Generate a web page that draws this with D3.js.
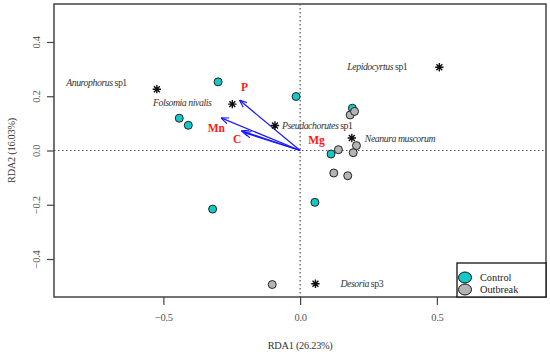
<!DOCTYPE html>
<html>
<head>
<meta charset="utf-8">
<script src="https://cdn.jsdelivr.net/npm/d3@7"></script>
<style>
  body { margin: 0; background: #fff; }
  svg text { font-family: "Liberation Serif", "DejaVu Serif", "Times New Roman", serif !important; }
</style>
</head>
<body>
<svg id="chart" width="550" height="363"></svg>
<script>
// site scores
var controlX = [-0.30, -0.442, -0.409, -0.015, 0.191, 0.113, -0.32, 0.054];
var controlY = [0.253, 0.119, 0.093, 0.199, 0.156, -0.013, -0.216, -0.191];
var outbreakX = [0.183, 0.199, 0.140, 0.206, 0.194, 0.123, 0.174, -0.102];
var outbreakY = [0.131, 0.144, 0.003, 0.018, -0.008, -0.083, -0.093, -0.494];

// species scores
var speciesGenus = ["Anurophorus", "Folsomia nivalis", "Pseudachorutes", "Lepidocyrtus", "Neanura muscorum", "Desoria"];
var speciesEpithet = ["sp1", "", "sp1", "sp1", "", "sp3"];
var speciesX = [-0.524, -0.248, -0.092, 0.509, 0.189, 0.056];
var speciesY = [0.226, 0.171, 0.092, 0.307, 0.046, -0.491];

// environmental vectors
var envNames = ["P", "Mn", "C", "Mg"];
var envX = [-0.22, -0.287, -0.213, -0.205];
var envY = [0.184, 0.119, 0.072, 0.066];

var xTicks = [-0.5, 0.0, 0.5];
var yTicks = [-0.4, -0.2, 0.0, 0.2, 0.4];

var margin = {top: 4, right: 4, bottom: 66, left: 54};
var width = 550 - margin.left - margin.right;
var height = 363 - margin.top - margin.bottom;
var serif = '"Liberation Serif", "DejaVu Serif", serif';

var svg = d3.select('#chart');
var chart = svg.append('g')
    .attr('transform', 'translate(' + margin.left + ',' + margin.top + ')');

var x = d3.scaleLinear().domain([-0.9, 0.899]).range([0, width]);
var y = d3.scaleLinear().domain([-0.54, 0.54]).range([height, 0]);

// axes
var xAxis = d3.axisBottom(x).tickValues(xTicks).tickSize(8).tickPadding(4)
    .tickFormat(d3.format('.1f'));
var yAxis = d3.axisLeft(y).tickValues(yTicks).tickSize(7).tickPadding(4)
    .tickFormat(d3.format('.1f'));

var gx = chart.append('g').attr('transform', 'translate(0,' + height + ')').call(xAxis);
var gy = chart.append('g').call(yAxis);
[gx, gy].forEach(function(g) {
    g.attr('font-family', serif);
    g.select('.domain').remove();
    g.selectAll('line').attr('stroke', '#444').attr('stroke-width', 1.2);
    g.selectAll('text').attr('fill', '#555').style('font-size', '10.5px')
        .style('letter-spacing', '-0.3px');
});
gx.selectAll('text').attr('dy', '1.1em');
gy.selectAll('text')
    .attr('transform', 'rotate(-90,-11,0)')
    .attr('x', -11).attr('dy', '-0.3em')
    .style('text-anchor', 'middle');

// zero lines
chart.append('line')
    .attr('x1', x(0)).attr('x2', x(0)).attr('y1', 0).attr('y2', height)
    .attr('stroke', '#555').attr('stroke-dasharray', '1.5,2.5').attr('stroke-width', 1.2);
chart.append('line')
    .attr('x1', 0).attr('x2', width).attr('y1', y(0)).attr('y2', y(0))
    .attr('stroke', '#555').attr('stroke-dasharray', '1.5,2.5').attr('stroke-width', 1.2);

// arrows
var defs = svg.append('defs');
defs.append('marker')
    .attr('id', 'head')
    .attr('viewBox', '0 0 10 10')
    .attr('refX', 9).attr('refY', 5)
    .attr('markerWidth', 6).attr('markerHeight', 6)
    .attr('orient', 'auto')
  .append('path')
    .attr('d', 'M0,1 L10,5 L0,9')
    .attr('fill', 'none').attr('stroke', '#1a1aff').attr('stroke-width', 1.5);

chart.selectAll('.env')
    .data(envNames)
    .enter().append('line')
    .attr('x1', x(0)).attr('y1', y(0))
    .attr('x2', function(d, i) { return x(envX[i]); })
    .attr('y2', function(d, i) { return y(envY[i]); })
    .attr('stroke', '#1a1aff').attr('stroke-width', 1.3)
    .attr('marker-end', 'url(#head)');

// env labels (offsets in px from the tip, Mg sits by the origin)
var envLabelPos = {
    P: [x(envX[0]) + 1, y(envY[0]) - 10],
    Mn: [x(envX[1]) - 14, y(envY[1]) + 14],
    C: [x(envX[2]) - 9, y(envY[2]) + 12],
    Mg: [x(0) + 8, y(0) - 7]
};
chart.selectAll('.envlab')
    .data(envNames)
    .enter().append('text')
    .attr('x', function(d) { return envLabelPos[d][0]; })
    .attr('y', function(d) { return envLabelPos[d][1]; })
    .attr('fill', '#ff1a1a')
    .style('font-size', '11.5px').style('font-weight', 'bold')
    .text(function(d) { return d; });

// sites
var sites = controlX.map(function(v, i) { return {x: v, y: controlY[i], c: '#12c8c8'}; })
    .concat(outbreakX.map(function(v, i) { return {x: v, y: outbreakY[i], c: '#b4b4b4'}; }));
chart.selectAll('.site')
    .data(sites)
    .enter().append('circle')
    .attr('cx', function(d) { return x(d.x); })
    .attr('cy', function(d) { return y(d.y); })
    .attr('r', 4)
    .attr('fill', function(d) { return d.c; })
    .attr('stroke', '#222').attr('stroke-width', 1);

// species asterisks
var star = d3.symbol().type({
    draw: function(ctx, size) {
        var r = Math.sqrt(size) / 2;
        var d = r * Math.SQRT1_2;
        ctx.moveTo(-r, 0); ctx.lineTo(r, 0);
        ctx.moveTo(0, -r); ctx.lineTo(0, r);
        ctx.moveTo(-d, -d); ctx.lineTo(d, d);
        ctx.moveTo(-d, d); ctx.lineTo(d, -d);
    }
}).size(70);
chart.selectAll('.sp')
    .data(speciesX)
    .enter().append('path')
    .attr('transform', function(d, i) { return 'translate(' + x(d) + ',' + y(speciesY[i]) + ')'; })
    .attr('d', star)
    .attr('stroke', '#111').attr('stroke-width', 1.4).attr('fill', 'none');

// species labels: [dx, dy, anchor]
var spLabel = [[-30, -3, 'end'], [-21, 2, 'end'], [7, 3, 'start'], [-32, 3, 'end'], [13, 4, 'start'], [25, 3, 'start']];
var spText = chart.selectAll('.splab')
    .data(speciesGenus)
    .enter().append('text')
    .attr('x', function(d, i) { return x(speciesX[i]) + spLabel[i][0]; })
    .attr('y', function(d, i) { return y(speciesY[i]) + spLabel[i][1]; })
    .style('text-anchor', function(d, i) { return spLabel[i][2]; })
    .attr('fill', '#333')
    .style('font-size', '9.8px').style('letter-spacing', '-0.45px');
spText.append('tspan').style('font-style', 'italic').text(function(d) { return d; });
spText.append('tspan').text(function(d, i) { return speciesEpithet[i] ? ' ' + speciesEpithet[i] : ''; });

// frame
chart.append('rect')
    .attr('width', width).attr('height', height)
    .attr('fill', 'none').attr('stroke', '#444').attr('stroke-width', 1.5);

// axis titles
svg.append('text')
    .attr('x', margin.left + x(0)).attr('y', 349)
    .style('text-anchor', 'middle').style('font-size', '10.3px').attr('fill', '#333')
    .style('letter-spacing', '-0.25px')
    .text('RDA1 (26.23%)');
svg.append('text')
    .attr('transform', 'translate(15,' + (margin.top + y(0)) + ') rotate(-90)')
    .style('text-anchor', 'middle').style('font-size', '10.3px').attr('fill', '#333')
    .style('letter-spacing', '-0.25px')
    .text('RDA2 (16.03%)');

// legend
var legendNames = ['Control', 'Outbreak'];
var legendColors = ['#12c8c8', '#b4b4b4'];
var lg = chart.append('g').attr('transform', 'translate(' + (width - 89) + ',' + (height - 34) + ')');
lg.append('rect').attr('width', 89).attr('height', 34)
    .attr('fill', '#fff').attr('stroke', '#111').attr('stroke-width', 1.3);
lg.selectAll('ellipse').data(legendNames).enter().append('ellipse')
    .attr('cx', 8).attr('cy', function(d, i) { return 14.5 + i * 12; })
    .attr('rx', 6.5).attr('ry', 5.5)
    .attr('fill', function(d, i) { return legendColors[i]; })
    .attr('stroke', '#111').attr('stroke-width', 1);
lg.selectAll('text').data(legendNames).enter().append('text')
    .attr('x', 23).attr('y', function(d, i) { return 18 + i * 12; })
    .style('font-size', '10.3px').attr('fill', '#222')
    .text(function(d) { return d; });
</script>
</body>
</html>
